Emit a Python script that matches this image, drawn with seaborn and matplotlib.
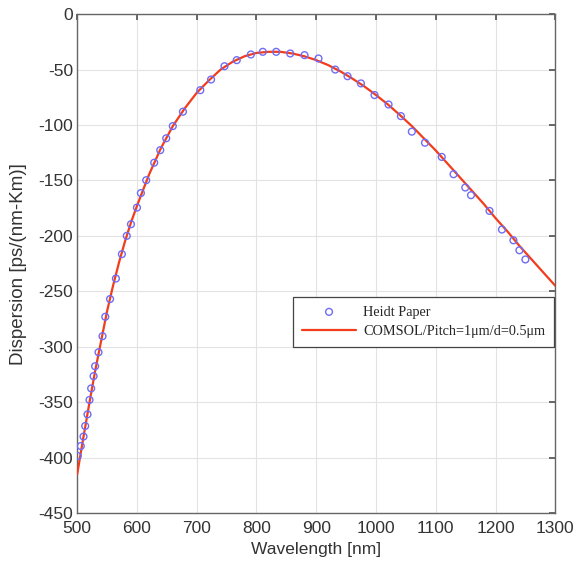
import matplotlib
matplotlib.use("Agg")
import matplotlib.pyplot as plt
import seaborn as sns
import pandas as pd

# Heidt Paper data (markers)
heidt_wl = [501, 506, 510.6, 513.4, 517.3, 520.6, 523.4, 527.4, 530, 535.7, 542.4, 547, 555,
            564.8, 574.8, 583, 590, 600, 606.6, 615.5, 628.9, 639, 649, 660, 677, 706, 724,
            746.5, 767, 790.6, 810.6, 833, 856.5, 880.4, 903.8, 931.8, 952.4, 974.8, 997.6,
            1021, 1041.7, 1060, 1082, 1110, 1129.8, 1149.4, 1159, 1190, 1210.8, 1230, 1240, 1250]
heidt_d = [-398.6, -389.6, -381, -371.5, -361, -348, -337.6, -326.5, -317.6, -305, -290.5, -273, -257,
           -238.5, -216.5, -200, -189.5, -174.5, -161.4, -149.8, -134, -122.7, -112, -101, -88, -68.6, -59,
           -47, -41.5, -36.4, -34, -34, -35.5, -37, -40, -50, -56, -62.5, -73,
           -81.5, -92, -106, -116, -128.8, -144.4, -156.4, -163.3, -177.5, -194.3, -204, -213, -221.3]

# COMSOL curve
comsol_wl = [500, 510, 520, 530, 540, 550, 560, 570, 580, 590, 600, 620, 640, 660, 680, 700, 720,
             740, 760, 780, 800, 820, 840, 860, 880, 900, 920, 940, 960, 980, 1000, 1020, 1040,
             1060, 1080, 1100, 1120, 1140, 1160, 1180, 1200, 1220, 1240, 1260, 1280, 1300]
comsol_d = [-415, -383, -352, -322, -295, -268, -245, -224, -205, -188, -173, -145, -121, -101, -85,
            -71, -60, -50, -43, -38, -35, -34, -34, -35.5, -38, -41.5, -46, -51.5, -58, -65, -73,
            -81.5, -91, -101, -112, -123, -135, -147, -159, -171, -184, -196, -209, -221, -233, -245]

xticks = [500, 600, 700, 800, 900, 1000, 1100, 1200, 1300]
yticks = [0, -50, -100, -150, -200, -250, -300, -350, -400, -450]

sns.set_theme(style="white")
plt.rcParams['font.family'] = ['Liberation Sans', 'DejaVu Sans']
plt.rcParams['axes.unicode_minus'] = False

fig = plt.figure(figsize=(5.76, 5.65), dpi=100)
ax = fig.add_axes([0.134, 0.092, 0.830, 0.883])

df_h = pd.DataFrame({"wl": heidt_wl, "d": heidt_d})
df_c = pd.DataFrame({"wl": comsol_wl, "d": comsol_d})

sns.lineplot(data=df_c, x="wl", y="d", ax=ax, color="#f23c1c", linewidth=1.6,
             label="COMSOL/Pitch=1μm/d=0.5μm", zorder=3, sort=False)
sns.scatterplot(data=df_h, x="wl", y="d", ax=ax, marker="o", s=24, facecolor="none",
                edgecolor="#6f6cf5", linewidth=1.0, label="Heidt Paper", zorder=4)

ax.set_xlim(500, 1300)
ax.set_ylim(-450, 0)
ax.set_xticks(xticks)
ax.set_yticks(yticks)
ax.grid(True, color="#e3e3e3", linewidth=0.8)
ax.set_axisbelow(True)
ax.tick_params(direction="in", length=4, top=True, right=True, labelsize=12.5,
               color="#555555", labelcolor="#333333")
ax.tick_params(axis="x", pad=6)
ax.tick_params(axis="y", pad=3)
for s in ax.spines.values():
    s.set_color("#666666")
    s.set_linewidth(1.0)
ax.set_xlabel("Wavelength [nm]", fontsize=12.5, color="#333333", labelpad=4)
ax.set_ylabel("Dispersion [ps/(nm-Km)]", fontsize=13.5, color="#333333", labelpad=8)

handles, labels = ax.get_legend_handles_labels()
order = [labels.index("Heidt Paper"), labels.index("COMSOL/Pitch=1μm/d=0.5μm")]
leg = ax.legend([handles[i] for i in order], [labels[i] for i in order],
                loc="upper left", bbox_to_anchor=(0.452, 0.433),
                prop={"family": "Liberation Serif", "size": 10.3},
                frameon=True, fancybox=False, edgecolor="#444444", framealpha=1,
                borderpad=0.6, handlelength=3.8, handletextpad=0.5,
                labelspacing=0.45, borderaxespad=0)
leg.get_frame().set_linewidth(0.9)

fig.savefig("out.png", dpi=100)
